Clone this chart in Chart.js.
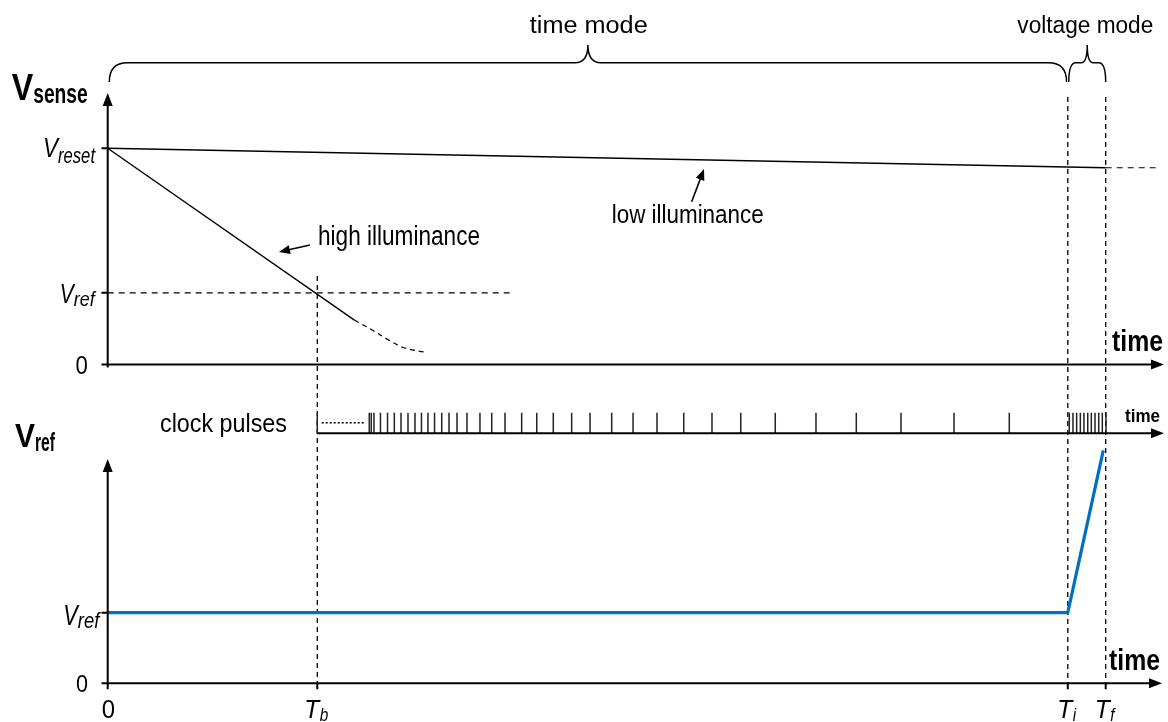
<!DOCTYPE html>
<html><head><meta charset="utf-8">
<style>html,body{margin:0;padding:0;background:#fff;}#wrap{width:1168px;height:722px;position:relative;}</style>
<script src="https://cdn.jsdelivr.net/npm/chart.js@4.4.1/dist/chart.umd.min.js"></script>
</head><body><div id="wrap"><canvas id="c"></canvas></div>
<script>
// ---------------- data ----------------
const timeTicks = [0, 21.0, 96.2, 100];               // 0, Tb, Ti, Tf
const timeTickLabels = [['0',''],['T','b'],['T','i'],['T','f']];
const senseTicks = [1.0, 0.331, 0];                  // Vreset, Vref, 0
const senseTickLabels = [['V','reset'],['V','ref'],['0','']];
const refTicks = [1.0, 0];
const refTickLabels = [['V','ref'],['0','']];

const lowT = [0, 100];
const lowV = [1.0, 0.91];
const lowTailT = [100, 105.3];
const lowTailV = [0.91, 0.91];
const highT = [0, 24.72];
const highV = [1.0, 0.205];
const highTailT = [24.72, 26.47, 28.23, 29.64, 31.93];
const highTailV = [0.205, 0.160, 0.111, 0.078, 0.055];
const vrefLineT = [0, 40.5];
const vrefLineV = [0.331, 0.331];
const waitT = [21.44, 25.78];
const waitV = [0.51, 0.51];
const pulseTimes = [21.0, 26.21, 26.41, 26.68, 27.33, 28.04, 28.72, 29.39, 30.09, 30.79, 31.44, 32.09, 32.75,
  33.47, 34.20, 35.00, 36.00, 37.30, 38.48, 39.81, 41.48, 42.99, 44.65, 46.49, 48.33, 50.50, 52.64, 55.04,
  57.72, 60.55, 63.43, 66.89, 70.97, 75.01, 79.49, 84.80, 90.34,
  96.35, 96.72, 97.09, 97.46, 97.82, 98.20, 98.56, 98.93, 99.30, 99.66, 100.03];
const rampT = [0, 96.2, 99.76];
const rampV = [1.0, 1.0, 3.3];

// ---------------- layout ----------------
const W = 1168, H = 722;
const X0 = 107.7, XPT = 9.98;
const SENSE0 = 364.4, SENSEK = 216.1;
const CLOCK0 = 433.3, CLOCKK = 20.6;
const REF0 = 683.3, REFK = 70.6;
const FONT = '"Liberation Sans", Arial, sans-serif';

const pts = (ts, vs) => ts.map((t, i) => ({x: t, y: vs[i]}));
const pulseData = [];
pulseTimes.forEach(t => { pulseData.push({x: t, y: 0}, {x: t, y: 1}, {x: t, y: null}); });

function line(data, axis, extra) {
  return Object.assign({data, yAxisID: axis, showLine: true, borderColor: '#000', borderWidth: 1.4,
    pointRadius: 0, fill: false, tension: 0}, extra || {});
}

function setFont(ctx, o) {
  ctx.font = (o.italic ? 'italic ' : '') + (o.bold ? 'bold ' : '') + o.size + 'px ' + FONT;
}
function tw(ctx, s, o) {
  setFont(ctx, o);
  const mw = ctx.measureText(s).width;
  return o.w ? o.w : mw * (o.sx || 0.85);
}
function txt(ctx, s, x, y, o) {
  setFont(ctx, o);
  const mw = ctx.measureText(s).width;
  const w = o.w ? o.w : mw * (o.sx || 0.85);
  const sc = w / mw;
  let left = x;
  if (o.align === 'center') left = x - w / 2; else if (o.align === 'right') left = x - w;
  ctx.save(); ctx.translate(left, y); ctx.scale(sc, 1);
  ctx.textAlign = 'left'; ctx.textBaseline = 'alphabetic'; ctx.fillStyle = '#000';
  ctx.fillText(s, 0, 0); ctx.restore();
  return w;
}
// main + subscript composite label
function subLabel(ctx, main, sub, x, base, o) {
  const mo = {size: o.ms, w: o.mw, bold: o.bold, italic: o.italic};
  const so = {size: o.ss, w: o.sw, bold: o.bold, italic: o.italic};
  const mW = tw(ctx, main, mo), sW = sub ? tw(ctx, sub, so) : 0;
  const total = mW + sW + (sub ? (o.gap || 0) : 0);
  let left = x;
  if (o.align === 'center') left = x - total / 2; else if (o.align === 'right') left = x - total;
  txt(ctx, main, left, base, mo);
  if (sub) txt(ctx, sub, left + mW + (o.gap || 0), base + o.dy, so);
}
function head(ctx, tx, ty, fx, fy, len, half) {
  const a = Math.atan2(ty - fy, tx - fx);
  ctx.beginPath();
  ctx.moveTo(tx, ty);
  ctx.lineTo(tx - len * Math.cos(a) + half * Math.sin(a), ty - len * Math.sin(a) - half * Math.cos(a));
  ctx.lineTo(tx - len * Math.cos(a) - half * Math.sin(a), ty - len * Math.sin(a) + half * Math.cos(a));
  ctx.closePath(); ctx.fill();
}
function arrow(ctx, fx, fy, tx, ty, len, half, lw) {
  const a = Math.atan2(ty - fy, tx - fx);
  ctx.lineWidth = lw;
  ctx.beginPath(); ctx.moveTo(fx, fy);
  ctx.lineTo(tx - (len - 1) * Math.cos(a), ty - (len - 1) * Math.sin(a)); ctx.stroke();
  head(ctx, tx, ty, fx, fy, len, half);
}
function brace(ctx, x1, x2, yb, yh, ytip, r1, r2) {
  const xm = (x1 + x2) / 2;
  ctx.beginPath();
  ctx.moveTo(x1, yb); ctx.quadraticCurveTo(x1, yh, x1 + r1, yh);
  ctx.lineTo(xm - r2, yh); ctx.quadraticCurveTo(xm, yh, xm, ytip);
  ctx.moveTo(xm, ytip); ctx.quadraticCurveTo(xm, yh, xm + r2, yh);
  ctx.lineTo(x2 - r1, yh); ctx.quadraticCurveTo(x2, yh, x2, yb);
  ctx.stroke();
}

const deco = {
  id: 'deco',
  beforeDatasetsDraw(chart) {
    const ctx = chart.ctx, s = chart.scales;
    const X = v => s.x.getPixelForValue(v);
    ctx.save();
    ctx.strokeStyle = '#000'; ctx.lineWidth = 1.3; ctx.setLineDash([5, 4]);
    ctx.beginPath();
    ctx.moveTo(X(timeTicks[1]), 276); ctx.lineTo(X(timeTicks[1]), s.yRef.getPixelForValue(0));
    ctx.moveTo(X(timeTicks[2]), 97); ctx.lineTo(X(timeTicks[2]), s.yRef.getPixelForValue(0));
    ctx.moveTo(X(timeTicks[3]), 97); ctx.lineTo(X(timeTicks[3]), s.yRef.getPixelForValue(0));
    ctx.stroke();
    ctx.restore();
  },
  afterDraw(chart) {
    const ctx = chart.ctx, s = chart.scales;
    const X = v => s.x.getPixelForValue(v);
    const YS = v => s.ySense.getPixelForValue(v);
    const YC = v => s.yClock.getPixelForValue(v);
    const YR = v => s.yRef.getPixelForValue(v);
    ctx.save();
    ctx.strokeStyle = '#000'; ctx.fillStyle = '#000'; ctx.setLineDash([]); ctx.lineCap = 'butt';
    const x0 = X(0);
    // ---- top axes ----
    ctx.lineWidth = 2;
    ctx.beginPath();
    ctx.moveTo(x0, YS(0) + 3); ctx.lineTo(x0, 104);
    ctx.moveTo(101.5, YS(0)); ctx.lineTo(1152, YS(0));
    senseTicks.forEach(v => { if (v) { ctx.moveTo(101.5, YS(v)); ctx.lineTo(x0, YS(v)); } });
    ctx.stroke();
    head(ctx, x0, 93, x0, 200, 13, 5);
    head(ctx, 1164, YS(0), 1000, YS(0), 13, 5);
    // ---- clock axis ----
    ctx.beginPath(); ctx.moveTo(X(timeTicks[1]), YC(0)); ctx.lineTo(1152, YC(0)); ctx.stroke();
    head(ctx, 1164, YC(0), 1000, YC(0), 13, 5);
    // ---- bottom axes ----
    ctx.beginPath();
    ctx.moveTo(x0, YR(0) + 3); ctx.lineTo(x0, 470);
    ctx.moveTo(101.5, YR(0)); ctx.lineTo(1150, YR(0));
    refTicks.forEach(v => { if (v) { ctx.moveTo(101.5, YR(v)); ctx.lineTo(x0, YR(v)); } });
    timeTicks.forEach(t => { ctx.moveTo(X(t), YR(0)); ctx.lineTo(X(t), YR(0) + 6); });
    ctx.stroke();
    head(ctx, x0, 459, x0, 600, 13, 5);
    head(ctx, 1162, YR(0), 1000, YR(0), 13, 5);

    // ---- braces ----
    ctx.lineWidth = 1.5;
    brace(ctx, X(0) + 1.6, X(timeTicks[2]) - 1.2, 82, 62.7, 45, 18, 13);
    brace(ctx, X(timeTicks[2]) + 1, X(timeTicks[3]), 82, 62.7, 45, 7, 6);
    txt(ctx, 'time mode', (X(0) + X(timeTicks[2])) / 2 + 1, 33, {size: 23, w: 118, align: 'center'});
    txt(ctx, 'voltage mode', 1085.3, 33.3, {size: 23, w: 136, align: 'center'});

    // ---- axis titles ----
    subLabel(ctx, 'V', 'sense', 11.7, 100, {ms: 36, mw: 21.5, ss: 28, sw: 54.5, dy: 3, bold: true});
    subLabel(ctx, 'V', 'ref', 15, 447, {ms: 34, mw: 20, ss: 26, sw: 20, dy: 4, bold: true});
    txt(ctx, 'time', 1112, 351, {size: 30, w: 51, bold: true});
    txt(ctx, 'time', 1109, 670, {size: 30, w: 51, bold: true});
    txt(ctx, 'time', 1125, 422, {size: 18, w: 35, bold: true});
    txt(ctx, 'clock pulses', 160, 432, {size: 26, w: 127});

    // ---- tick labels ----
    subLabel(ctx, 'V', 'reset', 95, YS(senseTicks[0]) + 8.4, {ms: 28, mw: 15, ss: 22, sw: 37, dy: 6.6, italic: true, align: 'right'});
    subLabel(ctx, 'V', 'ref', 94.7, YS(senseTicks[1]) + 9.8, {ms: 27, mw: 14, ss: 21, sw: 21, dy: 3.5, italic: true, align: 'right'});
    txt(ctx, '0', 87.7, YS(0) + 9.1, {size: 26, w: 12.3, align: 'right'});
    subLabel(ctx, 'V', 'ref', 99.3, YR(refTicks[0]) + 12.3, {ms: 29, mw: 14.5, ss: 22, sw: 21.5, dy: 3, italic: true, align: 'right'});
    txt(ctx, '0', 88, YR(0) + 8.4, {size: 24, w: 12, align: 'right'});
    timeTicks.forEach((t, i) => {
      const L = timeTickLabels[i];
      if (!L[1]) txt(ctx, L[0], X(t) + 0.6, 718, {size: 25, w: 13.3, align: 'center'});
      else subLabel(ctx, L[0], L[1], X(t) - 1, 718, {ms: 26, mw: 15, ss: 18, sx: 0.85, dy: 3, gap: 0.5, italic: true, align: 'center'});
    });

    // ---- annotations ----
    txt(ctx, 'high illuminance', 318, 245, {size: 27, w: 162});
    arrow(ctx, 310, 245, 279, 252, 11, 4.5, 1.6);
    txt(ctx, 'low illuminance', 611.7, 223.3, {size: 26, w: 152});
    arrow(ctx, 691.7, 201.7, 704, 169, 11, 4.5, 1.6);
    ctx.restore();
  }
};

new Chart(document.getElementById('c'), {
  type: 'scatter',
  data: {
    datasets: [
      line(pts(lowT, lowV), 'ySense'),
      line(pts(lowTailT, lowTailV), 'ySense', {borderDash: [6, 5], borderWidth: 1.2}),
      line(pts(highT, highV), 'ySense'),
      line(pts(highTailT, highTailV), 'ySense', {borderDash: [5, 4], borderWidth: 1.2, tension: 0.4}),
      line(pts(vrefLineT, vrefLineV), 'ySense', {borderDash: [6, 5], borderWidth: 1.2}),
      line(pts(waitT, waitV), 'yClock', {borderDash: [2, 2], borderWidth: 1.5}),
      line(pulseData, 'yClock', {borderColor: '#222', borderWidth: 1.5, spanGaps: false}),
      line(pts(rampT, rampV), 'yRef', {borderColor: '#0070C0', borderWidth: 3.2})
    ]
  },
  options: {
    responsive: true, maintainAspectRatio: false, animation: false, devicePixelRatio: 1,
    events: [],
    layout: {padding: 0},
    plugins: {legend: {display: false}, tooltip: {enabled: false}, title: {display: false}},
    scales: {
      x: {type: 'linear', display: false, min: -X0 / XPT, max: (W - X0) / XPT},
      ySense: {type: 'linear', display: false, min: -(H - SENSE0) / SENSEK, max: SENSE0 / SENSEK},
      yClock: {type: 'linear', display: false, min: -(H - CLOCK0) / CLOCKK, max: CLOCK0 / CLOCKK},
      yRef: {type: 'linear', display: false, min: -(H - REF0) / REFK, max: REF0 / REFK}
    }
  },
  plugins: [deco]
});
</script>
</body></html>
